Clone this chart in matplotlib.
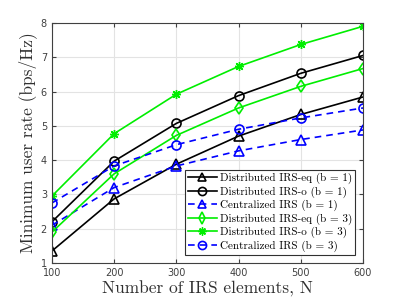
import matplotlib
matplotlib.use("Agg")
import matplotlib.pyplot as plt

N = [100, 200, 300, 400, 500, 600]
dist_eq_b1 = [1.35, 2.87, 3.88, 4.70, 5.33, 5.84]
dist_o_b1 = [2.20, 3.97, 5.07, 5.88, 6.53, 7.05]
cent_b1 = [2.10, 3.20, 3.83, 4.27, 4.60, 4.88]
dist_eq_b3 = [1.90, 3.60, 4.72, 5.52, 6.15, 6.67]
dist_o_b3 = [2.95, 4.77, 5.92, 6.73, 7.37, 7.90]
cent_b3 = [2.75, 3.83, 4.45, 4.90, 5.23, 5.52]

labels = ["Distributed IRS-eq (b = 1)", "Distributed IRS-o (b = 1)",
          "Centralized IRS (b = 1)", "Distributed IRS-eq (b = 3)",
          "Distributed IRS-o (b = 3)", "Centralized IRS (b = 3)"]

plt.rcParams['mathtext.fontset'] = 'cm'
fig = plt.figure(figsize=(4.02, 3.01), dpi=100)
ax = fig.add_axes([0.129, 0.126, 0.774, 0.798])

green = '#00ee00'
blue = '#0000ff'
ms = 6.5
ax.plot(N, dist_eq_b1, '-', color='black', marker='^', mfc='none', ms=ms, mew=1.2, lw=1.2, label=labels[0])
ax.plot(N, dist_o_b1, '-', color='black', marker='o', mfc='none', ms=ms, mew=1.2, lw=1.2, label=labels[1])
ax.plot(N, cent_b1, '--', color=blue, marker='^', mfc='none', ms=ms, mew=1.2, lw=1.2, dashes=(4, 3), label=labels[2])
ax.plot(N, dist_eq_b3, '-', color=green, marker='d', mfc='none', ms=ms, mew=1.2, lw=1.2, label=labels[3])
ax.plot(N, dist_o_b3, '-', color=green, marker=(8, 2, 0), ms=ms, mew=1.0, lw=1.2, label=labels[4])
ax.plot(N, cent_b3, '--', color=blue, marker='o', mfc='none', ms=ms, mew=1.2, lw=1.2, dashes=(4, 3), label=labels[5])

ax.set_xlim(100, 600)
ax.set_ylim(1, 8)
ax.set_xticks(N)
ax.set_yticks(range(1, 9))
ax.grid(True, color='#e3e3e3', lw=0.8)
ax.set_axisbelow(True)
ax.tick_params(labelsize=7, colors='#404040', direction='in', length=3, top=True, right=True)
for s in ax.spines.values():
    s.set_color('#404040')
    s.set_linewidth(0.8)

ax.set_xlabel("Number of IRS elements, N", family='cmr10', fontsize=12.5, color='#303030', labelpad=2)
ax.set_ylabel("Minimum user rate (bps/Hz)", family='cmr10', fontsize=12.5, color='#303030', labelpad=3)

leg = ax.legend(loc='lower right', prop={'family': 'cmr10', 'size': 8}, fancybox=False,
                edgecolor='#303030', framealpha=1, handlelength=2.6, borderpad=0.3,
                labelspacing=0.2, handletextpad=0.25, borderaxespad=0.7, markerscale=0.9)
leg.get_frame().set_linewidth(0.8)

fig.savefig("out.png", dpi=100)
